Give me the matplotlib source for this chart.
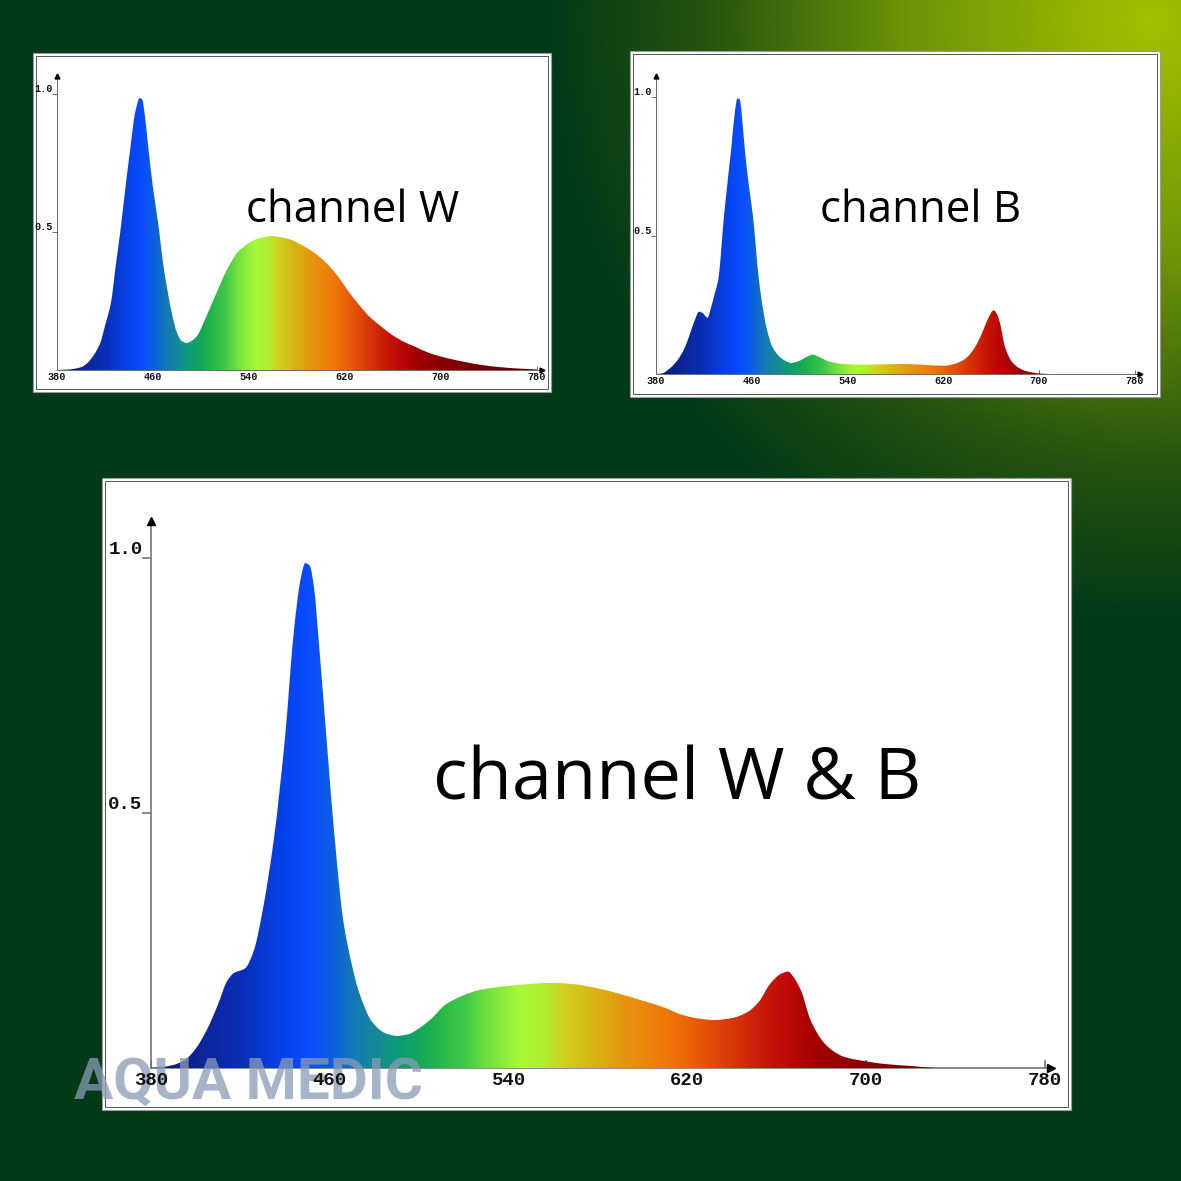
import numpy as np
import matplotlib.pyplot as plt
from matplotlib.colors import LinearSegmentedColormap
from matplotlib.patches import Rectangle, PathPatch
from matplotlib.path import Path

W = H = 1181

# spectra (wavelength nm, relative intensity)
wl_w = [380, 390, 400, 405, 410, 416, 420, 425, 429, 433, 437, 441, 445, 449, 451,
        453, 456, 460, 465, 468, 472, 476, 480, 484, 488, 492, 497, 502, 508, 514,
        519, 525, 530, 540, 547, 558, 565, 575, 585, 595, 605, 614, 622, 631, 640,
        650, 660, 670, 678, 690, 706, 720, 734, 750, 762, 780]
val_w = [0.0, 0.002, 0.01, 0.024, 0.05, 0.097, 0.16, 0.245, 0.38, 0.51, 0.66, 0.8,
         0.93, 0.985, 0.98, 0.93, 0.81, 0.66, 0.51, 0.4, 0.29, 0.2, 0.135, 0.105,
         0.098, 0.105, 0.125, 0.17, 0.23, 0.29, 0.34, 0.39, 0.424, 0.46, 0.475,
         0.485, 0.482, 0.472, 0.45, 0.423, 0.385, 0.34, 0.29, 0.24, 0.195, 0.158,
         0.125, 0.1, 0.085, 0.062, 0.042, 0.029, 0.018, 0.01, 0.006, 0.002]

wl_b = [380, 385, 392, 398, 404, 408, 412, 416, 419, 423, 426, 429, 432, 437, 443,
        446, 448, 450, 452, 454, 457, 461, 466, 470, 473, 477, 482, 487, 493, 500,
        506, 511, 517, 524, 537, 551, 570, 585, 600, 612, 621, 628, 635, 641, 646,
        650, 654, 658, 662, 665, 667, 669, 671, 674, 677, 682, 688, 695, 700, 710, 780]
val_b = [0.0, 0.002, 0.022, 0.05, 0.095, 0.14, 0.19, 0.225, 0.22, 0.203, 0.24, 0.29,
         0.34, 0.58, 0.82, 0.95, 0.995, 0.99, 0.92, 0.82, 0.7, 0.57, 0.34, 0.22,
         0.155, 0.1, 0.068, 0.05, 0.04, 0.048, 0.062, 0.07, 0.06, 0.046, 0.036,
         0.034, 0.035, 0.036, 0.034, 0.031, 0.03, 0.035, 0.046, 0.065, 0.094, 0.125,
         0.165, 0.205, 0.23, 0.215, 0.19, 0.15, 0.106, 0.07, 0.046, 0.025, 0.012,
         0.005, 0.002, 0.0, 0.0]

wl_wb = [380, 385, 390, 395, 400, 405, 410, 414, 417, 422, 426, 430, 435, 440, 444,
         447, 449, 451, 453, 455, 459, 462, 466, 470, 473, 479, 485, 490, 495, 500,
         505, 512, 520, 527, 540, 550, 560, 570, 580, 590, 600, 610, 617, 625, 632,
         640, 647, 652, 657, 662, 665, 668, 671, 675, 681, 685, 690, 700, 708, 720,
         733, 780]
val_wb = [0.0, 0.002, 0.006, 0.015, 0.038, 0.075, 0.125, 0.17, 0.186, 0.195, 0.23,
          0.31, 0.45, 0.65, 0.86, 0.96, 0.99, 0.985, 0.94, 0.84, 0.62, 0.46, 0.29,
          0.2, 0.15, 0.09, 0.068, 0.063, 0.066, 0.078, 0.095, 0.125, 0.143, 0.153,
          0.161, 0.165, 0.167, 0.164, 0.156, 0.145, 0.132, 0.118, 0.105, 0.097,
          0.094, 0.098, 0.11, 0.13, 0.165, 0.185, 0.189, 0.175, 0.15, 0.095, 0.05,
          0.034, 0.022, 0.013, 0.008, 0.004, 0.0, 0.0]

x_ticks = [380, 460, 540, 620, 700, 780]
y_ticks = [0.5, 1.0]
y_labels = ['0.5', '1.0']
titles = ['channel W', 'channel B', 'channel W & B']

# wavelength -> colour used for the fill
spec_stops = [(380, '#0b1a6e'), (400, '#0d2494'), (420, '#0a2fb8'), (440, '#0644ee'),
              (450, '#0a4cff'), (460, '#0c5ee0'), (470, '#1478b8'), (480, '#168a98'),
              (490, '#0e9a78'), (500, '#14a858'), (510, '#28b848'), (520, '#40c848'),
              (530, '#70e040'), (545, '#a8f838'), (555, '#b0f030'), (565, '#d0d020'),
              (580, '#d8b010'), (595, '#e89010'), (610, '#f07808'), (625, '#e85a08'),
              (640, '#d83808'), (655, '#c81808'), (665, '#c00808'), (680, '#a00000'),
              (700, '#8a0000'), (740, '#700000'), (780, '#600000')]
spec_cmap = LinearSegmentedColormap.from_list(
    'spec', [((w - 380) / 400, c) for w, c in spec_stops])


def smooth_outline(xs, ys):
    # closed outline of the area under the curve, drawn as monotone cubic
    # bezier segments through the read points
    x = np.asarray(xs, float)
    y = np.asarray(ys, float)
    h = np.diff(x)
    d = np.diff(y) / h
    m = np.zeros_like(x)
    m[0], m[-1] = d[0], d[-1]
    for k in range(1, len(x) - 1):
        if d[k - 1] * d[k] > 0:
            w1 = 2 * h[k] + h[k - 1]
            w2 = h[k] + 2 * h[k - 1]
            m[k] = (w1 + w2) / (w1 / d[k - 1] + w2 / d[k])
    verts = [(x[0], 0), (x[0], y[0])]
    codes = [Path.MOVETO, Path.LINETO]
    for k in range(len(x) - 1):
        verts += [(x[k] + h[k] / 3, y[k] + m[k] * h[k] / 3),
                  (x[k + 1] - h[k] / 3, y[k + 1] - m[k + 1] * h[k] / 3),
                  (x[k + 1], y[k + 1])]
        codes += [Path.CURVE4] * 3
    verts += [(x[-1], 0), (x[0], 0)]
    codes += [Path.LINETO, Path.CLOSEPOLY]
    return Path(verts, codes)


fig = plt.figure(figsize=(W / 100, H / 100), dpi=100)

# background with the yellow-green glow in the top right corner
bg = fig.add_axes([0, 0, 1, 1])
yy, xx = np.mgrid[0:H, 0:W]
t = np.clip(np.hypot(xx - 1150, yy - 20) / 600, 0, 1)
glow = LinearSegmentedColormap.from_list(
    'glow', [(0, '#a4c000'), (0.4, '#6e9508'), (0.75, '#24520f'), (1, '#023a18')])
bg.imshow(glow(t)[:, :, :3], extent=(0, W, H, 0), interpolation='bilinear')
bg.set_xlim(0, W)
bg.set_ylim(H, 0)
bg.set_axis_off()

# panels: white box, origin (px), px per nm, px per unit, arrow tips, title
panels = [
    dict(box=(33, 53, 551, 392), org=(57, 370), ppn=1.2, ppu=276, tip=(542, 76),
         wl=wl_w, val=val_w, title=titles[0], tpos=(353, 222), tsize=31.5,
         fs=7.3, lw=0.7, ms=3.5),
    dict(box=(630, 51, 1160, 397), org=(656, 374), ppn=1.197, ppu=277, tip=(1140, 76),
         wl=wl_b, val=val_b, title=titles[1], tpos=(921, 222), tsize=31.5,
         fs=7.3, lw=0.7, ms=3.5),
    dict(box=(102, 478, 1071, 1110), org=(151, 1068), ppn=2.235, ppu=510, tip=(1051, 521),
         wl=wl_wb, val=val_wb, title=titles[2], tpos=(677, 800), tsize=52,
         fs=13.7, lw=1.1, ms=6),
]

axes = []
for p in panels:
    x0, y0, x1, y1 = p['box']
    bg.add_patch(Rectangle((x0, y0), x1 - x0, y1 - y0, facecolor='white',
                           edgecolor='#9a9a9a', lw=0.8))
    bg.add_patch(Rectangle((x0 + 3, y0 + 3), x1 - x0 - 6, y1 - y0 - 6, facecolor='none',
                           edgecolor='#555555', lw=0.7))

    ox, oy = p['org']
    xmax = 380 + (p['tip'][0] - ox) / p['ppn']
    ymax = (oy - p['tip'][1]) / p['ppu']
    ax = fig.add_axes([ox / W, 1 - oy / H, (p['tip'][0] - ox) / W, (oy - p['tip'][1]) / H])
    ax.patch.set_visible(False)
    axes.append(ax)

    # small upward ticks on the x axis, hidden under the fill like the original
    tick_h = p['fs'] * 0.55 / p['ppu']
    ax.vlines(x_ticks, 0, tick_h, color='#6a6a6a', lw=p['lw'], zorder=1)

    grad = np.linspace(380, 780, 801).reshape(1, -1)
    im = ax.imshow(grad, extent=(380, 780, 0, 1.05), aspect='auto', cmap=spec_cmap,
                   vmin=380, vmax=780, zorder=2)
    clip = PathPatch(smooth_outline(p['wl'], p['val']), facecolor='none',
                     edgecolor='none')
    ax.add_patch(clip)
    im.set_clip_path(clip)

    ax.set_xlim(380, xmax)
    ax.set_ylim(0, ymax)
    for s in ['top', 'right']:
        ax.spines[s].set_visible(False)
    for s in ['left', 'bottom']:
        ax.spines[s].set_color('#6a6a6a')
        ax.spines[s].set_linewidth(p['lw'])
        ax.spines[s].set_zorder(1)
    ax.plot([380], [ymax], marker='^', ms=p['ms'], color='black', clip_on=False, zorder=3)
    ax.plot([xmax], [0], marker='>', ms=p['ms'], color='black', clip_on=False, zorder=3)

    ax.set_xticks(x_ticks)
    ax.set_xticklabels([str(v) for v in x_ticks])
    ax.set_yticks(y_ticks)
    ax.set_yticklabels(y_labels)
    ax.tick_params(axis='x', length=0, pad=p['fs'] * 0.2)
    ax.tick_params(axis='y', direction='out', length=p['fs'] * 0.45, width=p['lw'],
                   color='#6a6a6a', pad=0)
    ax.xaxis.set_zorder(3)
    ax.yaxis.set_zorder(3)
    for lbl in ax.get_xticklabels() + ax.get_yticklabels():
        lbl.set_fontfamily('Liberation Mono')
        lbl.set_fontweight('bold')
        lbl.set_fontsize(p['fs'])
        lbl.set_color('#111111')
    for lbl in ax.get_yticklabels():
        lbl.set_verticalalignment('bottom')

    fig.text(p['tpos'][0] / W, 1 - p['tpos'][1] / H, p['title'], ha='center',
             va='baseline', fontsize=p['tsize'], fontfamily='Open Sans', color='black')

# watermark logo: above the fill, below the tick labels
axes[2].text(248 / W, 1 - 1099 / H, 'AQUA MEDIC', transform=fig.transFigure,
             ha='center', va='baseline', fontsize=42, fontfamily='Roboto',
             fontweight='bold', color='#8a9bb5', alpha=0.75, zorder=2.5, clip_on=False)

fig.savefig('out.png', dpi=100)
